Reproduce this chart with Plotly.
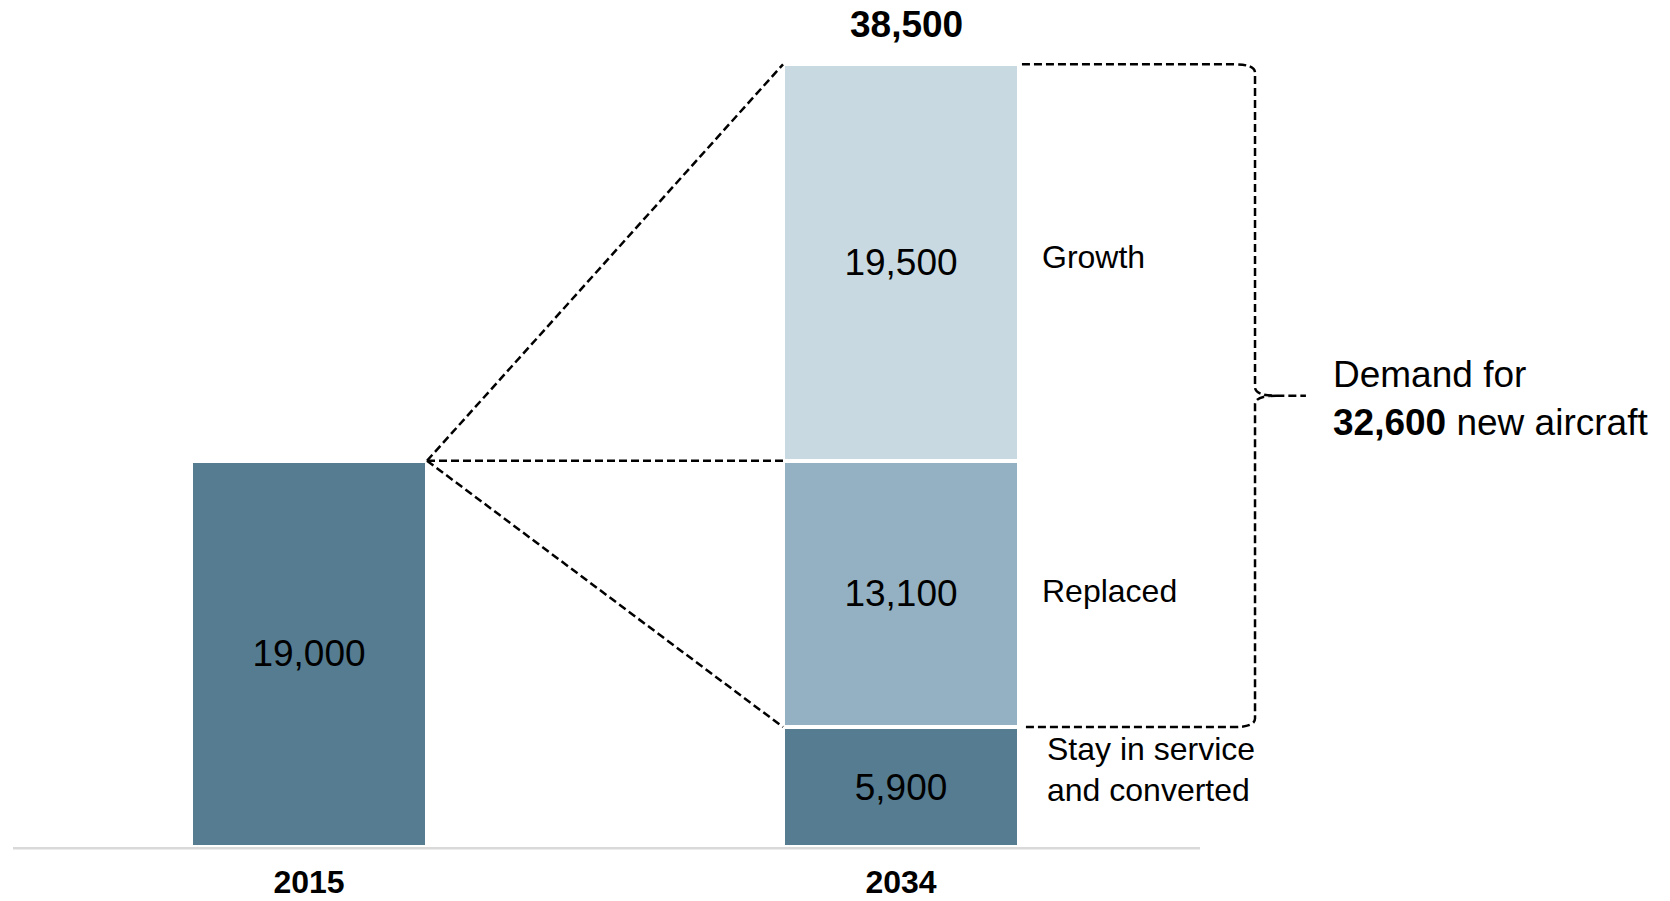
import plotly.graph_objects as go

# Fleet data
years = ["2015", "2034"]
fleet_2015 = 19000
seg_names = ["Stay in service and converted", "Replaced", "Growth"]
seg_values = [5900, 13100, 19500]

total_2034 = sum(seg_values)
new_aircraft = seg_values[1] + seg_values[2]

DARK = "#557C91"
MID = "#93B1C2"
LIGHT = "#C8D9E1"
seg_colors = [DARK, MID, LIGHT]
FONT = "Liberation Sans, Arial, sans-serif"

x_pos = [0, 1]
bar_w = 0.3986

fig = go.Figure()

fig.add_trace(go.Bar(
    x=[x_pos[0]], y=[fleet_2015], width=bar_w,
    marker=dict(color=DARK, line=dict(color="white", width=4)),
    text=[f"{fleet_2015:,}"], textposition="inside", insidetextanchor="middle",
    textfont=dict(size=37, color="black", family=FONT),
    showlegend=False, hoverinfo="skip",
))

for name, val, col in zip(seg_names, seg_values, seg_colors):
    fig.add_trace(go.Bar(
        x=[x_pos[1]], y=[val], width=bar_w, name=name,
        marker=dict(color=col, line=dict(color="white", width=4)),
        text=[f"{val:,}"], textposition="inside", insidetextanchor="middle",
        textfont=dict(size=37, color="black", family=FONT),
        showlegend=False, hoverinfo="skip",
    ))

# Dashed connectors from the 2015 bar to the 2034 stack
dash_line = dict(color="black", width=2.5, dash="8px,4px")
x_apex = x_pos[0] + bar_w / 2
x_end = x_pos[1] - bar_w / 2
shapes = []
for y_target in [total_2034, seg_values[1] + seg_values[0], seg_values[0]]:
    shapes.append(dict(type="line", xref="x", yref="y",
                       x0=x_apex, y0=fleet_2015, x1=x_end, y1=y_target,
                       line=dash_line))

# Right brace spanning Replaced + Growth
top = total_2034
bot = seg_values[0]
mid = (top + bot) / 2
x0 = x_pos[1] + bar_w / 2 + 0.005
xv = 1.598
xt = 1.684
hx = 0.036
vy = 420
brace = (
    f"M {x0},{top} L {xv-hx},{top} Q {xv},{top} {xv},{top-vy} "
    f"L {xv},{mid+vy} Q {xv},{mid} {xv+hx},{mid} L {xt},{mid} "
    f"M {xv+hx},{mid} Q {xv},{mid} {xv},{mid-vy} "
    f"L {xv},{bot+vy} Q {xv},{bot} {xv-hx},{bot} L {x0},{bot}"
)
shapes.append(dict(type="path", xref="x", yref="y", path=brace, line=dash_line))

# Baseline
shapes.append(dict(type="line", xref="x", yref="y", x0=-0.5, x1=1.505,
                   y0=-60, y1=-60, line=dict(color="#D9D9D9", width=2.5)))

label_font = dict(size=32, color="black", family=FONT)
annotations = [
    dict(x=x_pos[1], y=total_2034, xref="x", yref="y", yanchor="bottom",
         yshift=17, xshift=5,
         text=f"<b>{total_2034:,}</b>", showarrow=False,
         font=dict(size=37, color="black", family=FONT)),
    dict(x=1.235, y=29000, xref="x", yref="y", xanchor="left", yanchor="middle",
         text=seg_names[2], showarrow=False, font=label_font),
    dict(x=1.235, y=12600, xref="x", yref="y", xanchor="left", yanchor="middle",
         text=seg_names[1], showarrow=False, font=label_font),
    dict(x=1.243, y=4800, xref="x", yref="y", xanchor="left", yanchor="middle",
         text="Stay in service", showarrow=False, font=label_font),
    dict(x=1.243, y=2780, xref="x", yref="y", xanchor="left", yanchor="middle",
         text="and converted", showarrow=False, font=label_font),
    dict(x=1.727, y=22050, xref="x", yref="y", xanchor="left", yanchor="middle",
         text=f"Demand for<br><b>{new_aircraft:,}</b> new aircraft", align="left",
         showarrow=False, font=dict(size=37, color="black", family=FONT)),
]

fig.update_layout(
    barmode="stack",
    width=1670, height=901,
    margin=dict(l=0, r=0, t=0, b=51),
    plot_bgcolor="white", paper_bgcolor="white",
    shapes=shapes, annotations=annotations,
    xaxis=dict(range=[-0.522, 2.299], tickvals=x_pos,
               ticktext=[f"<b>{y}</b>" for y in years],
               tickfont=dict(size=32, color="black", family=FONT),
               ticklabelstandoff=10, automargin=False,
               showgrid=False, zeroline=False, showline=False, ticks=""),
    yaxis=dict(range=[-147, 41663], visible=False, showgrid=False,
               zeroline=False, automargin=False),
)

fig.write_html("out.html")
